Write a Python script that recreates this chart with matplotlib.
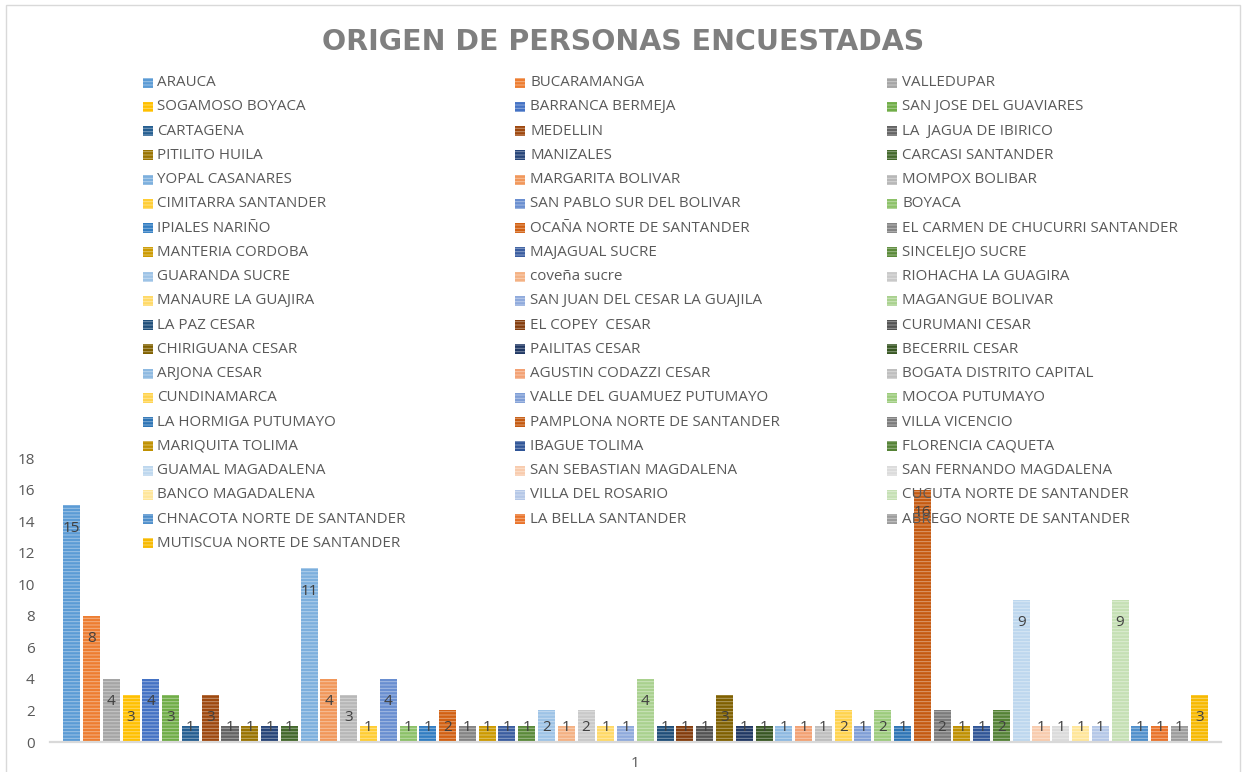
import matplotlib

matplotlib.use("Agg")
import matplotlib.pyplot as plt
from matplotlib.patches import Rectangle

# municipios / ciudades de origen (orden de la serie en Excel)
origins = [
    "ARAUCA", "BUCARAMANGA", "VALLEDUPAR",
    "SOGAMOSO BOYACA", "BARRANCA BERMEJA", "SAN JOSE DEL GUAVIARES",
    "CARTAGENA", "MEDELLIN", "LA  JAGUA DE IBIRICO",
    "PITILITO HUILA", "MANIZALES", "CARCASI SANTANDER",
    "YOPAL CASANARES", "MARGARITA BOLIVAR", "MOMPOX BOLIBAR",
    "CIMITARRA SANTANDER", "SAN PABLO SUR DEL BOLIVAR", "BOYACA",
    "IPIALES NARIÑO", "OCAÑA NORTE DE SANTANDER", "EL CARMEN DE CHUCURRI SANTANDER",
    "MANTERIA CORDOBA", "MAJAGUAL SUCRE", "SINCELEJO SUCRE",
    "GUARANDA SUCRE", "coveña sucre", "RIOHACHA LA GUAGIRA",
    "MANAURE LA GUAJIRA", "SAN JUAN DEL CESAR LA GUAJILA", "MAGANGUE BOLIVAR",
    "LA PAZ CESAR", "EL COPEY  CESAR", "CURUMANI CESAR",
    "CHIRIGUANA CESAR", "PAILITAS CESAR", "BECERRIL CESAR",
    "ARJONA CESAR", "AGUSTIN CODAZZI CESAR", "BOGATA DISTRITO CAPITAL",
    "CUNDINAMARCA", "VALLE DEL GUAMUEZ PUTUMAYO", "MOCOA PUTUMAYO",
    "LA HORMIGA PUTUMAYO", "PAMPLONA NORTE DE SANTANDER", "VILLA VICENCIO",
    "MARIQUITA TOLIMA", "IBAGUE TOLIMA", "FLORENCIA CAQUETA",
    "GUAMAL MAGADALENA", "SAN SEBASTIAN MAGDALENA", "SAN FERNANDO MAGDALENA",
    "BANCO MAGADALENA", "VILLA DEL ROSARIO", "CUCUTA NORTE DE SANTANDER",
    "CHNACOTA NORTE DE SANTANDER", "LA BELLA SANTANDER", "ABREGO NORTE DE SANTANDER",
    "MUTISCUA NORTE DE SANTANDER",
]

counts = [
    15, 8, 4, 3, 4, 3, 1, 3, 1, 1, 1, 1,
    11, 4, 3, 1, 4, 1, 1, 2, 1, 1, 1, 1,
    2, 1, 2, 1, 1, 4, 1, 1, 1, 3, 1, 1,
    1, 1, 1, 2, 1, 2, 1, 16, 2, 1, 1, 2,
    9, 1, 1, 1, 1, 9, 1, 1, 1, 3,
]

category_label = "1"
title = "ORIGEN DE PERSONAS ENCUESTADAS"

# Excel office palette with its shade / tint variants
palette = [
    "#5B9BD5", "#ED7D31", "#A5A5A5", "#FFC000", "#4472C4", "#70AD47",
    "#255E91", "#9E480E", "#636363", "#997300", "#264478", "#43682B",
    "#7CAFDD", "#F1975A", "#B7B7B7", "#FFCD33", "#698ED0", "#8CC168",
    "#327DC2", "#D26012", "#848484", "#CC9A00", "#3A5DA0", "#5A8A39",
    "#9DC3E6", "#F4B183", "#C9C9C9", "#FFD966", "#8FAADC", "#A9D18E",
    "#1F4E79", "#843C0C", "#525252", "#7F6000", "#203864", "#385723",
    "#8DB9E1", "#F3A173", "#BEBEBE", "#FFD34D", "#7F9ED6", "#9CCB7C",
    "#2E75B6", "#C55A11", "#7B7B7B", "#BF9000", "#2F5597", "#548235",
    "#BDD7EE", "#F8CBAD", "#DBDBDB", "#FFE699", "#B4C7E7", "#C5E0B4",
    "#4F8FCB", "#E9732A", "#9C9C9C", "#F7B900",
]

W, H = 1247, 772
TEXT = "#595959"
plt.rcParams["font.family"] = ["Open Sans", "DejaVu Sans"]
plt.rcParams["hatch.linewidth"] = 0.7
stripe = (1, 1, 1, 0.4)

fig = plt.figure(figsize=(W / 100, H / 100), dpi=100)
ax = fig.add_axes([50 / W, 1 - 742 / H, (1221 - 50) / W, (742 - 458) / H])

n = len(counts)
xs = list(range(n))
for x, v, col in zip(xs, counts, palette):
    ax.bar(x, v, width=0.86, color=col, edgecolor=stripe, linewidth=0, hatch="-----")
    ax.text(x, max(v - 1.45, 0.95), str(v), ha="center", va="center",
            fontsize=11, color="#404040")

ax.set_xlim(-1.1, n + 0.1)
ax.set_ylim(0, 18)
ax.set_yticks(range(0, 19, 2))
ax.set_xticks([(n - 1) / 2])
ax.set_xticklabels([category_label])
ax.tick_params(axis="y", length=0, pad=11, labelsize=11, labelcolor=TEXT)
ax.tick_params(axis="x", length=0, pad=10, labelsize=11, labelcolor=TEXT)
for side in ("left", "right", "top"):
    ax.spines[side].set_visible(False)
ax.spines["bottom"].set_color("#D9D9D9")
ax.spines["bottom"].set_linewidth(1.6)
ax.patch.set_alpha(0)

fig.text(0.5, 1 - 42 / H, title, ha="center", va="center", fontsize=20.5,
         fontweight="bold", color="#7F7F7F", family="DejaVu Sans")

# legend: 3 columns, filled row by row like Excel
col_x = [143, 515, 887]
text_x = [157, 530, 902]
for i, (name, col) in enumerate(zip(origins, palette)):
    r, c = divmod(i, 3)
    yc = 82.7 + r * 24.24
    fig.add_artist(Rectangle((col_x[c] / W, 1 - (yc + 5) / H), 10 / W, 10 / H,
                             transform=fig.transFigure, facecolor=col,
                             edgecolor=stripe, linewidth=0, hatch="-----"))
    fig.text(text_x[c] / W, 1 - yc / H, name, ha="left", va="center",
             fontsize=10.9, color=TEXT)

fig.add_artist(Rectangle((6 / W, -0.01), (1240 - 6) / W, (H - 5) / H + 0.01,
                         transform=fig.transFigure, fill=False,
                         edgecolor="#D9D9D9", linewidth=1))

fig.savefig("out.png", dpi=100)
